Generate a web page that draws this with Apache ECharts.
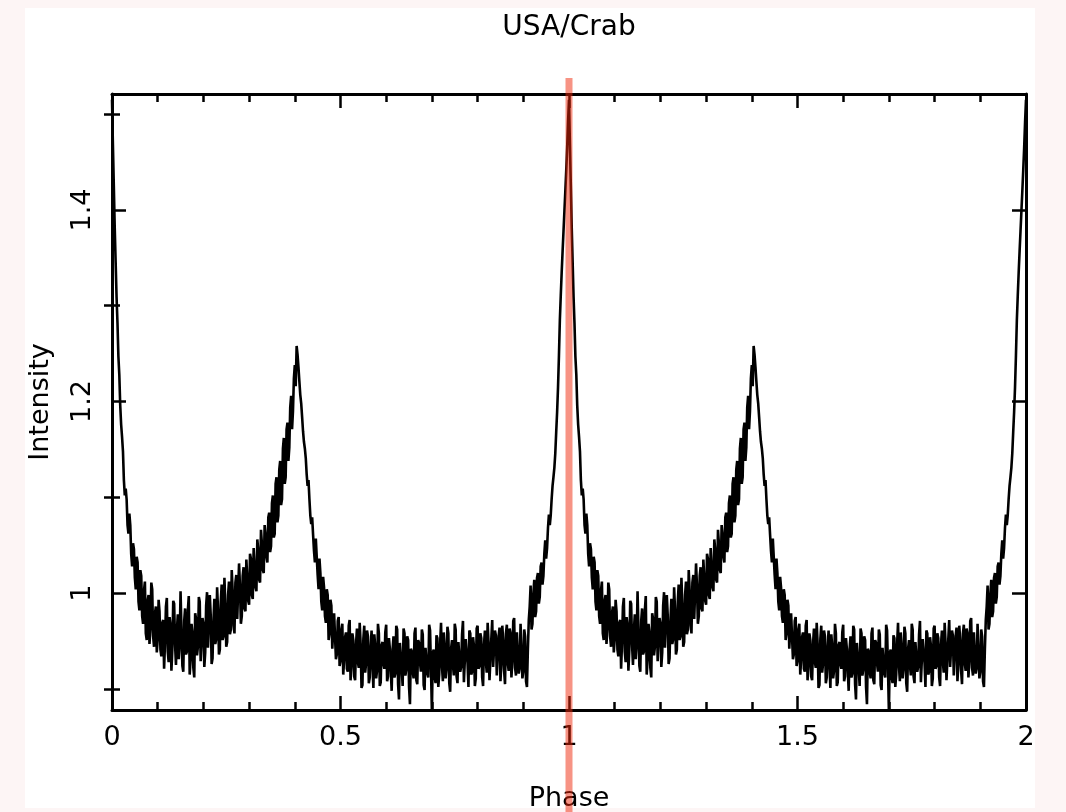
<!DOCTYPE html>
<html><head><meta charset="utf-8">
<script src="https://cdn.jsdelivr.net/npm/echarts@6/dist/echarts.min.js"></script>
<style>html,body{margin:0;padding:0;background:#fdf5f5;}#c{width:1066px;height:812px;}</style>
</head><body><div id="c"></div>
<script>
// One pulse period (500 phase bins); it is shown twice (phase 0-2)
const profile = [
1.515,1.468,1.425,1.381,1.345,1.309,1.282,1.247,1.228,1.196,
1.176,1.163,1.148,1.118,1.102,1.109,1.098,1.071,1.062,1.083,
1.071,1.041,1.028,1.052,1.046,1.016,1.004,1.038,1.032,0.991,
0.982,1.024,1.018,0.976,0.968,1.003,1.012,0.958,0.951,0.992,
0.998,0.947,0.962,1.011,1.004,0.955,0.944,0.979,0.986,0.938,
0.952,0.993,
0.981,0.941,0.934,0.969,0.972,0.921,0.948,0.986,0.995,0.939,
0.928,0.975,0.966,0.919,0.941,0.992,0.989,0.946,0.925,0.961,
0.978,0.931,0.947,1.002,0.962,0.924,0.918,0.971,0.984,0.936,
0.939,0.982,0.997,0.915,0.931,0.968,0.959,0.922,0.912,0.979,
0.973,0.935,0.944,0.996,0.991,0.929,0.927,0.974,0.968,0.923,
0.938,0.987,1.001,0.943,0.945,0.998,0.977,0.926,0.932,0.971,
0.994,0.947,0.952,1.006,0.983,0.936,0.941,0.991,1.009,0.951,
0.955,1.016,0.988,0.944,0.949,0.998,1.012,0.957,0.962,1.024,
1.003,0.966,0.958,1.011,1.019,0.973,0.971,1.031,1.008,0.968,
0.976,1.018,1.027,0.984,0.981,1.035,1.016,0.992,0.988,1.041,
1.036,0.998,0.994,1.047,1.029,1.006,1.002,1.056,1.045,1.014,
1.011,1.066,1.052,1.024,1.021,1.071,1.061,1.038,1.032,1.079,
1.084,1.043,1.049,1.094,1.102,1.058,1.062,1.114,1.121,1.074,
1.081,1.129,1.138,1.092,1.098,1.151,1.162,1.114,1.121,1.171,
1.178,1.138,1.152,1.194,1.206,1.171,1.190,1.224,1.238,1.216,
1.258,1.249,1.236,1.221,1.207,1.198,1.184,1.169,1.158,1.151,
1.141,1.124,1.112,1.118,1.098,1.081,1.072,1.079,1.061,1.044,
1.032,1.057,1.038,1.019,1.004,1.036,1.021,0.991,0.982,1.017,
1.006,0.976,0.969,1.004,0.998,0.951,0.958,0.993,0.987,0.942,
0.944,0.979,0.981,0.931,0.936,0.971,0.975,0.924,0.929,0.962,
0.968,0.915,0.931,0.954,0.959,0.921,0.918,0.966,0.972,0.909,
0.925,0.958,0.951,0.913,0.909,0.947,0.963,0.928,0.922,0.969,
0.948,0.901,0.904,0.952,0.966,0.917,0.927,0.961,0.955,0.906,
0.912,0.944,0.961,0.924,0.901,0.957,0.944,0.911,0.919,0.968,
0.958,0.903,0.907,0.946,0.949,0.926,0.921,0.959,0.967,0.908,
0.913,0.953,0.942,0.919,0.898,0.941,0.955,0.912,0.916,0.966,
0.962,0.905,0.889,0.948,0.946,0.921,0.903,0.963,0.958,0.914,
0.921,0.955,0.951,0.902,0.884,0.942,0.939,0.918,0.911,0.958,
0.964,0.909,0.905,0.951,0.948,0.927,0.918,0.962,0.957,0.904,
0.899,0.943,0.945,0.916,0.912,0.967,0.961,0.921,0.876,0.938,
0.941,0.913,0.906,0.956,0.953,0.902,0.915,0.947,0.969,0.924,
0.908,0.959,0.944,0.911,0.921,0.965,0.958,0.906,0.897,0.942,
0.951,0.925,0.914,0.968,0.962,0.913,0.906,0.949,0.947,0.918,
0.923,0.957,0.971,0.907,0.909,0.952,0.952,0.927,0.902,0.961,
0.958,0.915,0.918,0.954,0.945,0.903,0.911,0.963,0.966,0.921,
0.924,0.958,0.953,0.912,0.903,0.946,0.961,0.929,0.917,0.969,
0.948,0.909,0.908,0.952,0.972,0.923,0.921,0.961,0.956,0.914,
0.912,0.955,0.964,0.908,0.926,0.966,0.951,0.919,0.905,0.958,
0.967,0.927,0.919,0.963,0.958,0.912,0.928,0.971,0.974,0.922,
0.914,0.959,0.961,0.916,0.922,0.968,0.969,0.911,0.918,0.962,
0.955,0.908,0.902,0.941,0.972,0.986,1.008,0.962,0.968,0.999,
1.014,0.975,0.981,1.016,1.021,0.989,0.996,1.028,1.032,1.009,
1.018,1.041,1.055,1.036,1.047,1.068,1.082,1.071,1.081,1.098,
1.112,1.121,1.131,1.146,1.168,1.189,1.215,1.248,1.285,1.311,
1.335,1.357,1.378,1.399,1.420,1.442,1.465,1.492
];
const binWidth = 0.002;          // phase width of one bin
const xRange = [0, 2];
const xMajorStep = 0.5;
const yRange = [0.878, 1.521];
const yMajorTicks = [1, 1.2, 1.4];
const yMinorTicks = [0.9, 1.1, 1.3, 1.5];
const markerPhase = 1;
const titleText = 'USA/Crab';
const xName = 'Phase';
const yName = 'Intensity';

const twoCycles = profile.concat(profile, [profile[0]]);
const seriesData = twoCycles.map((v, i) => [i * binWidth, v]);

const FONT = 'DejaVu Sans';
const BLK = '#000';
const axisLineStyle = {show: true, onZero: false, lineStyle: {color: BLK, width: 3}};

function xAx(pos, labels) {
  return {
    type: 'value', gridIndex: 0, position: pos, min: xRange[0], max: xRange[1], interval: xMajorStep,
    axisLine: axisLineStyle,
    axisTick: {show: true, inside: true, length: 14, lineStyle: {color: BLK, width: 2.5}},
    minorTick: {show: true, splitNumber: 5, length: 8, lineStyle: {color: BLK, width: 2.5}},
    splitLine: {show: false}, minorSplitLine: {show: false},
    axisLabel: {show: labels, color: BLK, fontFamily: FONT, fontSize: 27, margin: 14},
    name: labels ? xName : '', nameLocation: 'middle', nameGap: 75,
    nameTextStyle: {color: BLK, fontFamily: FONT, fontSize: 27}
  };
}
function yAx(pos, ticks, len, labels, line) {
  return {
    type: 'value', gridIndex: 0, position: pos, min: yRange[0], max: yRange[1],
    axisLine: line ? axisLineStyle : {show: false},
    axisTick: {show: true, inside: true, length: len, customValues: ticks, lineStyle: {color: BLK, width: 2.5}},
    splitLine: {show: false},
    axisLabel: {show: labels, customValues: ticks, rotate: 90, color: BLK, fontFamily: FONT, fontSize: 27, margin: 16},
    name: labels ? yName : '', nameLocation: 'middle', nameGap: 58,
    nameTextStyle: {color: BLK, fontFamily: FONT, fontSize: 27}
  };
}

const chart = echarts.init(document.getElementById('c'));
chart.setOption({
  animation: false,
  backgroundColor: '#fdf5f5',
  graphic: [
    {type: 'rect', z: -100, shape: {x: 25, y: 8, width: 1010, height: 800}, style: {fill: '#ffffff'}, silent: true},
    {type: 'text', z: 10, x: 569, y: 28, style: {text: titleText, font: '28px "DejaVu Sans"', fill: BLK, textAlign: 'center', textVerticalAlign: 'middle'}}
  ],
  grid: [
    {left: 112, right: 40, top: 94, bottom: 102, containLabel: false, outerBoundsMode: 'none'},
    {left: 112, right: 40, top: 78, bottom: 0, containLabel: false, outerBoundsMode: 'none'}
  ],
  xAxis: [
    xAx('bottom', true),
    xAx('top', false),
    {type: 'value', gridIndex: 1, min: xRange[0], max: xRange[1], show: false}
  ],
  yAxis: [
    yAx('left', yMajorTicks, 14, true, true),
    yAx('left', yMinorTicks, 8, false, false),
    yAx('right', yMajorTicks, 14, false, true),
    yAx('right', yMinorTicks, 8, false, false),
    {type: 'value', gridIndex: 1, min: 0, max: 1, show: false}
  ],
  series: [
    {type: 'line', xAxisIndex: 0, yAxisIndex: 0, data: seriesData, showSymbol: false, symbol: 'none',
     sampling: null, lineStyle: {color: BLK, width: 2.6, join: 'miter', miterLimit: 2}, z: 2, silent: true},
    {type: 'line', xAxisIndex: 2, yAxisIndex: 4, data: [[markerPhase, 0], [markerPhase, 1]], symbol: 'none',
     lineStyle: {color: 'rgba(240,40,10,0.5)', width: 7}, z: 5, silent: true}
  ]
});
</script>
</body></html>
